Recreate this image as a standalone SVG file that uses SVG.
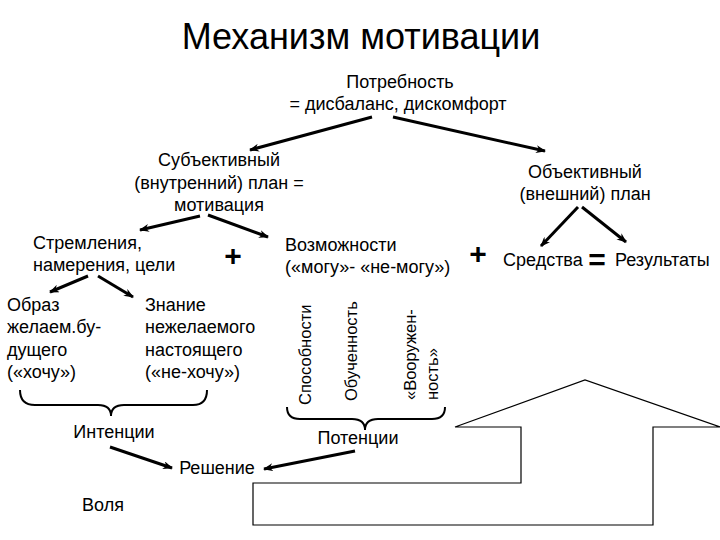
<svg xmlns="http://www.w3.org/2000/svg" width="720" height="540" viewBox="0 0 720 540">
<defs>
<marker id="ah" markerWidth="10" markerHeight="8" refX="9" refY="4" orient="auto" markerUnits="userSpaceOnUse">
<path d="M0,0 L10,4 L0,8 L3,4 Z" fill="#000"/>
</marker>
</defs>
<style>
text{font-family:"Liberation Sans",Arial,sans-serif;font-size:18px;fill:#000}
.t{font-size:36px}
.c{text-anchor:middle}
.r{font-size:16.5px}
.p{font-size:30px;font-weight:bold}
.a{stroke:#000;stroke-width:3;fill:none;marker-end:url(#ah)}
.b{stroke:#000;stroke-width:2;fill:none}
</style>
<rect width="720" height="540" fill="#fff"/>
<text class="t c" x="361" y="49">Механизм мотивации</text>
<g id="need"><text class="c" x="400" y="88">Потребность</text><text class="c" x="398" y="110">= дисбаланс, дискомфорт</text></g>
<g id="subj"><text class="c" x="219" y="166">Субъективный</text><text class="c" x="219" y="189">(внутренний) план =</text><text class="c" x="219" y="211">мотивация</text></g>
<g id="obj"><text class="c" x="585" y="178">Объективный</text><text class="c" x="585" y="200">(внешний) план</text></g>
<g id="strive"><text x="33" y="249">Стремления,</text><text x="33" y="271">намерения, цели</text></g>
<g id="plus1"><text class="p c" x="233" y="266">+</text></g>
<g id="poss"><text x="285" y="251">Возможности</text><text x="285" y="273">(«могу»- «не-могу»)</text></g>
<g id="plus2"><text class="p c" x="478" y="264">+</text></g>
<g id="means"><text x="503" y="266">Средства</text></g>
<g id="eq"><text class="p c" x="597" y="270">=</text></g>
<g id="results"><text x="615" y="266">Результаты</text></g>
<g id="image"><text x="7" y="311">Образ</text><text x="7" y="333">желаем.бу-</text><text x="7" y="356">дущего</text><text x="7" y="378">(«хочу»)</text></g>
<g id="know"><text x="145" y="311">Знание</text><text x="145" y="333">нежелаемого</text><text x="145" y="356">настоящего</text><text x="145" y="378">(«не-хочу»)</text></g>
<g id="abil"><text class="r" transform="translate(311,405) rotate(-90)">Способности</text></g>
<g id="learn"><text class="r" transform="translate(357,401) rotate(-90)">Обученность</text></g>
<g id="arm"><text class="r" transform="translate(416,400) rotate(-90)">«Вооружен-</text><text class="r" transform="translate(438,400) rotate(-90)">ность»</text></g>
<g id="intent"><text class="c" x="114" y="438">Интенции</text></g>
<g id="potent"><text class="c" x="358" y="444">Потенции</text></g>
<g id="decision"><text class="c" x="217" y="474">Решение</text></g>
<g id="will"><text class="c" x="103" y="511">Воля</text></g>
<g id="house"><path d="M253,483 H521 V427 H455 L585,380 L720,427 H653 V525 H253 Z" fill="none" stroke="#000" stroke-width="1.2"/></g>
<g id="connectors">
<path class="a" d="M372,117 L250,150"/>
<path class="a" d="M393,117 L545,151"/>
<path class="a" d="M200,216 L140,230"/>
<path class="a" d="M208,215 L268,237"/>
<path class="a" d="M578,207 L541,246"/>
<path class="a" d="M582,207 L626,242"/>
<path class="a" d="M88,276 L50,292"/>
<path class="a" d="M98,276 L133,297"/>
<path class="a" d="M110,447 L172,468"/>
<path class="a" d="M355,451 L264,469"/>
<path class="b" d="M20,390 Q20,405 35,405 H98 Q111,405 111,416 Q111,405 124,405 H193 Q207,405 207,390"/>
<path class="b" d="M287,407 Q287,419 300,419 H352 Q365,419 365,430 Q365,419 378,419 H432 Q445,419 445,407"/>
</g>
</svg>
